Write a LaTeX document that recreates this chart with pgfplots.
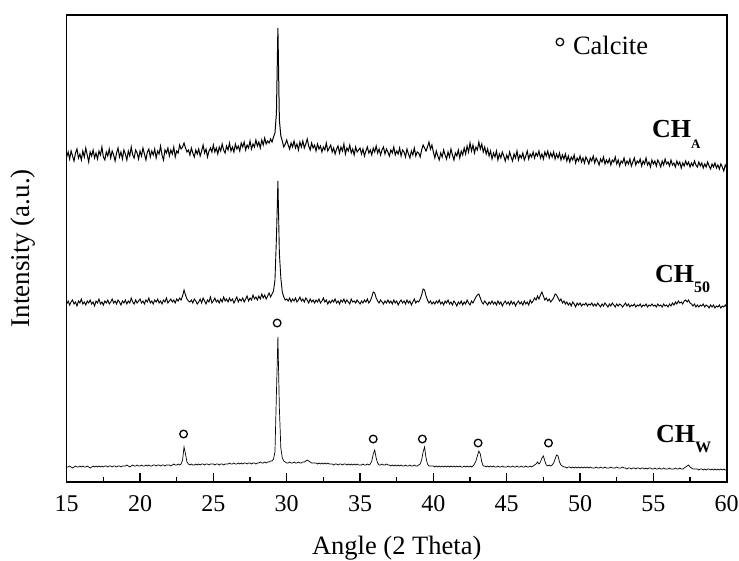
\documentclass[border=0pt]{standalone}
\usepackage{pgfplots}
\usepackage{pgfplotstable}
\pgfplotsset{compat=1.18}
\usepackage{fontspec}
\setmainfont{Liberation Serif}

\pgfplotstableread{
x W F A
15.0 11 174 321
15.1 11 177 326
15.2 12 173 319
15.3 11 176 327
15.4 10 178 322
15.5 11 174 317
15.6 12 176 325
15.7 11 172 329
15.8 11 177 320
15.9 12 175 324
16.0 11 179 318
16.1 12 174 327
16.2 11 176 321
16.3 11 173 330
16.4 12 177 323
16.5 11 175 316
16.6 10 178 326
16.7 11 174 322
16.8 12 176 328
16.9 11 172 320
17.0 12 177 325
17.1 11 175 319
17.2 12 179 327
17.3 11 174 323
17.4 12 176 331
17.5 11 173 321
17.6 12 177 318
17.7 12 175 326
17.8 11 178 322
17.9 12 174 329
18.0 12 176 320
18.1 11 179 327
18.2 12 175 323
18.3 12 177 317
18.4 11 174 325
18.5 12 178 330
18.6 12 176 321
18.7 11 173 326
18.8 12 177 319
18.9 12 175 328
19.0 12 178 324
19.1 13 174 318
19.2 12 177 327
19.3 11 175 322
19.4 12 180 331
19.5 13 176 323
19.6 12 174 320
19.7 12 178 328
19.8 13 175 325
19.9 12 177 319
20.0 12 179 327
20.1 13 175 322
20.2 12 177 330
20.3 12 174 324
20.4 13 178 318
20.5 12 176 326
20.6 13 180 329
20.7 12 175 321
20.8 12 177 327
20.9 13 174 323
21.0 13 178 329
21.1 12 176 320
21.2 13 179 327
21.3 13 175 324
21.4 12 177 332
21.5 13 174 323
21.6 13 178 318
21.7 12 176 328
21.8 13 180 325
21.9 13 175 330
22.0 13 177 322
22.1 12 179 328
22.2 13 176 324
22.3 14 178 331
22.4 13 175 321
22.5 13 179 327
22.6 14 177 325
22.7 13 180 333
22.8 14 178 329
22.9 18 182 331
23.0 31 188 335
23.1 24 183 330
23.2 16 179 326
23.3 14 177 328
23.4 13 176 323
23.5 14 178 330
23.6 13 175 325
23.7 13 179 321
23.8 14 177 328
23.9 13 174 324
24.0 14 176 329
24.1 13 179 322
24.2 14 175 327
24.3 14 180 333
24.4 13 177 325
24.5 14 174 329
24.6 14 178 321
24.7 13 176 327
24.8 14 181 330
24.9 14 175 326
25.0 14 177 333
25.1 13 180 326
25.2 14 176 330
25.3 14 178 324
25.4 13 175 331
25.5 14 179 327
25.6 14 176 334
25.7 13 181 328
25.8 14 177 325
25.9 14 179 332
26.0 14 176 328
26.1 15 180 335
26.2 14 177 327
26.3 14 179 331
26.4 15 175 326
26.5 14 178 334
26.6 14 181 329
26.7 15 176 332
26.8 14 179 327
26.9 15 177 335
27.0 14 180 331
27.1 15 176 336
27.2 15 179 328
27.3 14 182 333
27.4 15 177 330
27.5 15 180 337
27.6 14 178 329
27.7 15 183 334
27.8 15 179 331
27.9 14 181 338
28.0 15 178 332
28.1 15 182 336
28.2 16 179 330
28.3 15 184 338
28.4 15 180 333
28.5 16 183 340
28.6 15 179 334
28.7 16 182 337
28.8 16 185 335
28.9 17 181 339
29.0 17 184 336
29.1 19 187 341
29.2 26 198 345
29.3 85 240 365
29.4 141 297 450
29.5 70 225 358
29.6 30 200 342
29.7 20 186 337
29.8 17 181 331
29.9 16 178 334
30.0 15 179 338
30.1 15 177 333
30.2 16 180 329
30.3 15 176 335
30.4 15 179 331
30.5 16 177 337
30.6 15 180 330
30.7 15 176 334
30.8 16 178 328
30.9 15 181 336
31.0 15 177 331
31.1 16 179 337
31.2 16 176 330
31.3 17 180 334
31.4 18 178 339
31.5 17 175 332
31.6 16 179 328
31.7 15 176 335
31.8 15 178 330
31.9 15 175 333
32.0 15 178 327
32.1 14 176 334
32.2 15 179 329
32.3 14 175 332
32.4 15 177 326
32.5 14 180 331
32.6 15 176 328
32.7 14 178 335
32.8 15 174 327
32.9 14 177 330
33.0 14 175 333
33.1 14 178 326
33.2 13 176 330
33.3 14 179 324
33.4 14 175 329
33.5 13 177 332
33.6 14 174 325
33.7 14 178 331
33.8 13 176 327
33.9 14 179 334
34.0 14 175 324
34.1 13 178 330
34.2 14 176 327
34.3 13 174 333
34.4 14 179 325
34.5 13 176 329
34.6 14 177 323
34.7 13 175 331
34.8 14 178 326
34.9 13 176 328
35.0 13 174 330
35.1 13 177 324
35.2 14 175 329
35.3 13 178 322
35.4 13 176 327
35.5 14 179 331
35.6 13 175 325
35.7 14 177 328
35.8 17 181 323
35.9 24 186 330
36.0 28 185 326
36.1 20 180 332
36.2 15 177 325
36.3 13 175 329
36.4 13 178 323
36.5 14 176 328
36.6 13 174 331
36.7 13 177 324
36.8 14 175 329
36.9 13 178 326
37.0 13 175 322
37.1 12 177 328
37.2 13 174 325
37.3 12 178 331
37.4 13 175 323
37.5 12 177 327
37.6 13 173 324
37.7 12 176 330
37.8 13 178 322
37.9 12 175 328
38.0 12 177 326
38.1 13 174 321
38.2 12 178 329
38.3 12 175 324
38.4 13 177 320
38.5 12 173 327
38.6 12 176 323
38.7 13 179 330
38.8 12 175 322
38.9 12 177 326
39.0 13 176 325
39.1 14 179 321
39.2 18 183 328
39.3 26 189 333
39.4 31 188 330
39.5 20 182 327
39.6 14 178 331
39.7 12 175 336
39.8 12 177 329
39.9 12 174 333
40.0 12 176 326
40.1 11 174 320
40.2 12 177 327
40.3 11 175 322
40.4 12 178 318
40.5 11 174 325
40.6 12 176 321
40.7 11 173 328
40.8 12 177 323
40.9 11 175 319
41.0 12 178 326
41.1 11 174 321
41.2 12 176 329
41.3 11 173 323
41.4 12 177 318
41.5 11 175 325
41.6 12 172 322
41.7 11 176 328
41.8 12 174 320
41.9 11 177 327
42.0 11 173 323
42.1 12 176 330
42.2 11 174 324
42.3 12 178 332
42.4 11 175 326
42.5 12 173 335
42.6 11 177 327
42.7 12 175 333
42.8 14 178 325
42.9 17 181 331
43.0 22 183 328
43.1 27 184 336
43.2 24 180 329
43.3 16 176 334
43.4 12 174 326
43.5 12 177 331
43.6 11 175 324
43.7 12 173 329
43.8 11 176 322
43.9 12 174 327
44.0 11 177 319
44.1 12 174 325
44.2 11 176 321
44.3 11 173 327
44.4 12 177 318
44.5 11 174 324
44.6 11 176 320
44.7 12 172 326
44.8 11 175 322
44.9 11 177 317
45.0 11 174 323
45.1 12 176 319
45.2 11 173 326
45.3 11 177 321
45.4 12 174 317
45.5 11 176 324
45.6 11 172 320
45.7 12 175 327
45.8 11 177 318
45.9 11 174 323
46.0 12 176 320
46.1 11 173 325
46.2 11 177 318
46.3 12 174 322
46.4 11 176 327
46.5 11 173 319
46.6 12 178 324
46.7 11 175 321
46.8 12 177 326
46.9 13 180 320
47.0 14 178 325
47.1 16 182 322
47.2 14 179 327
47.3 16 183 320
47.4 20 186 324
47.5 22 182 319
47.6 17 178 326
47.7 13 180 322
47.8 12 177 327
47.9 13 179 320
48.0 12 176 325
48.1 13 178 321
48.2 15 180 326
48.3 19 184 319
48.4 23 183 324
48.5 22 180 320
48.6 16 177 325
48.7 13 179 318
48.8 12 175 323
48.9 11 177 319
49.0 11 174 324
49.1 10 176 317
49.2 11 173 322
49.3 11 175 316
49.4 10 172 321
49.5 11 176 318
49.6 10 174 323
49.7 11 171 315
49.8 10 175 320
49.9 11 173 317
50.0 10 175 322
50.1 11 172 316
50.2 10 174 320
50.3 11 173 315
50.4 10 175 321
50.5 11 172 318
50.6 10 174 314
50.7 11 173 320
50.8 10 175 317
50.9 10 172 322
51.0 10 174 315
51.1 11 172 320
51.2 10 175 317
51.3 10 173 313
51.4 11 171 319
51.5 10 174 316
51.6 10 172 321
51.7 11 175 314
51.8 10 173 318
51.9 10 171 315
52.0 10 174 319
52.1 11 172 313
52.2 10 175 318
52.3 10 173 316
52.4 10 171 321
52.5 11 174 314
52.6 10 172 318
52.7 10 174 312
52.8 10 173 317
52.9 11 171 315
53.0 10 173 320
53.1 10 175 313
53.2 9 172 317
53.3 10 174 314
53.4 10 171 319
53.5 9 173 312
53.6 10 172 316
53.7 10 174 320
53.8 9 171 313
53.9 10 173 317
54.0 10 172 315
54.1 9 174 319
54.2 10 171 312
54.3 10 173 317
54.4 9 172 314
54.5 10 174 320
54.6 9 171 313
54.7 10 173 316
54.8 10 172 311
54.9 9 174 318
55.0 9 172 314
55.1 10 173 317
55.2 9 171 312
55.3 9 174 318
55.4 10 172 315
55.5 9 173 311
55.6 9 171 317
55.7 10 174 313
55.8 9 172 319
55.9 9 173 314
56.0 9 171 316
56.1 10 174 312
56.2 9 172 318
56.3 9 175 313
56.4 9 173 315
56.5 10 176 311
56.6 9 174 317
56.7 9 177 313
56.8 10 175 316
56.9 9 176 310
57.0 9 174 315
57.1 10 177 312
57.2 11 178 317
57.3 12 176 313
57.4 13 178 316
57.5 11 175 311
57.6 10 174 315
57.7 9 172 312
57.8 9 174 317
57.9 9 171 313
58.0 9 173 311
58.1 8 171 316
58.2 9 173 312
58.3 9 172 315
58.4 8 174 310
58.5 9 171 314
58.6 8 173 311
58.7 9 172 316
58.8 9 170 312
58.9 8 173 309
59.0 9 171 314
59.1 8 173 311
59.2 9 170 315
59.3 8 172 310
59.4 9 171 313
59.5 8 173 309
59.6 9 170 314
59.7 8 172 311
59.8 9 171 307
59.9 8 173 313
60.0 8 171 310
}\xrd

\begin{document}
\begin{tikzpicture}
\begin{axis}[
  name=ax,
  scale only axis,
  width=660bp, height=466.7bp,
  xmin=15, xmax=60, ymin=-3.7, ymax=463,
  xtick={15,20,25,30,35,40,45,50,55,60},
  xticklabels={15,20,25,30,35,40,45,50,55,60},
  minor x tick num=1,
  ytick=\empty,
  xtick pos=bottom,
  tick align=inside,
  major tick length=9bp,
  minor tick length=5bp,
  axis line style={line width=1.6bp},
  every tick/.style={line width=1.1bp, black},
  xticklabel style={font=\fontsize{24bp}{28bp}\selectfont, anchor=base, text height=17bp, text depth=0pt, inner sep=0pt, yshift=-30bp},
  xlabel={Angle (2 Theta)},
  ylabel={Intensity (a.u.)},
  every axis x label/.style={at={(axis description cs:0.5,0)}, anchor=base, yshift=-73bp, font=\fontsize{26.5bp}{30bp}\selectfont},
  every axis y label/.style={at={([xshift=-36.7bp]axis description cs:0,0.5)}, anchor=base, rotate=90, font=\fontsize{27bp}{30bp}\selectfont},
]
\addplot[black, line width=1bp] table[x=x, y=A] {\xrd};
\addplot[black, line width=0.9bp] table[x=x, y=F] {\xrd};
\addplot[black, line width=0.7bp] table[x=x, y=W] {\xrd};
\addplot[only marks, mark=o, mark size=3.8bp, mark options={line width=1.3bp, black}] coordinates {
(22.97,44) (29.35,155) (35.9,39) (39.25,39) (43.05,35) (47.85,35)
};
\addplot[only marks, mark=o, mark size=3.8bp, mark options={line width=1.3bp, black}] coordinates {(48.63,436)};
\node[anchor=base west, inner sep=0pt, font=\fontsize{26.5bp}{30bp}\selectfont] at (axis cs:49.51,423) {Calcite};
\node[anchor=base west, inner sep=0pt, font=\bfseries\fontsize{26bp}{30bp}\selectfont] at (axis cs:54.9,340) {CH\raisebox{-11bp}{\fontsize{13bp}{13bp}\selectfont A}};
\node[anchor=base west, inner sep=0pt, font=\bfseries\fontsize{26bp}{30bp}\selectfont] at (axis cs:55.1,196) {CH\raisebox{-10bp}{\fontsize{16bp}{16bp}\selectfont 50}};
\node[anchor=base west, inner sep=0pt, font=\bfseries\fontsize{26bp}{30bp}\selectfont] at (axis cs:55.17,36) {CH\raisebox{-10bp}{\fontsize{16bp}{16bp}\selectfont W}};
\end{axis}
\pgfresetboundingbox
\path ([shift={(-66.7bp,-78.3bp)}]ax.south west) rectangle ([shift={(12.3bp,15bp)}]ax.north east);
\end{tikzpicture}
\end{document}
